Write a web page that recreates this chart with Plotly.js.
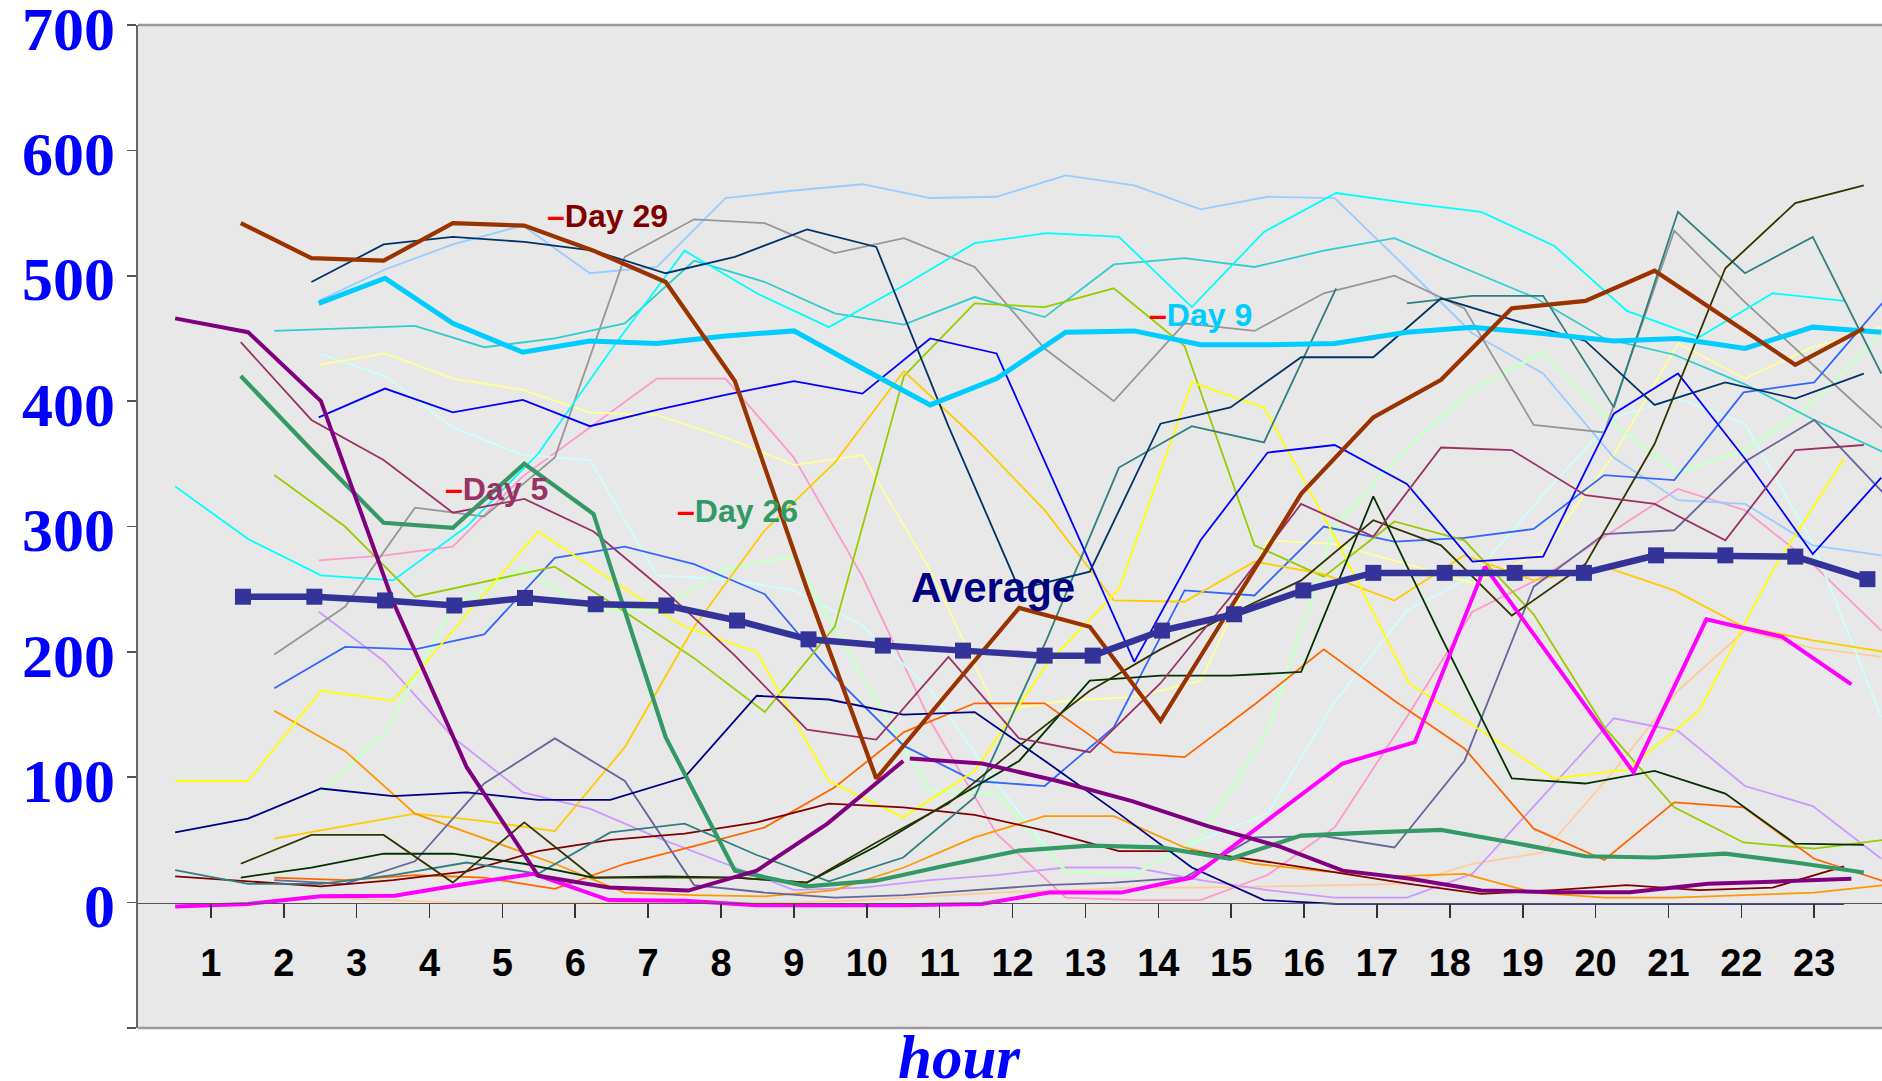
<!DOCTYPE html>
<html><head><meta charset="utf-8">
<script src="https://cdn.plot.ly/plotly-3.0.1.min.js"></script>
<style>html,body{margin:0;padding:0;background:#fff;}#chart{width:1882px;height:1081px;}</style>
</head><body><div id="chart"></div>
<script>
// ---- axis labels ----
const hourTicks = [1,2,3,4,5,6,7,8,9,10,11,12,13,14,15,16,17,18,19,20,21,22,23];
const hourLabels = ['1','2','3','4','5','6','7','8','9','10','11','12','13','14','15','16','17','18','19','20','21','22','23'];
const yTickVals = [-100,0,100,200,300,400,500,600,700];
const yTickText = ['','0','100','200','300','400','500','600','700'];
const xTitle = 'hour';

// ---- x positions (hour units) of the points of the overlaid day charts ----
const gridP = [0.51,1.51,2.51,3.50,4.51,5.49,6.48,7.50,8.49,9.48,10.50,11.48,12.47,13.46,14.46,15.45,16.44,17.44,18.43,19.43,20.43,21.42,22.43,23.41];
const gridQ = [1.41,2.38,3.37,4.32,5.30,6.25,7.24,8.19,9.18,10.13,11.12,12.09,13.06,14.03,14.99,15.96,16.95,17.88,18.85,19.86,20.81,21.78,22.74,23.68];
const gridR = [2.48,3.39,4.32,5.28,6.20,7.12,8.06,9.00,9.94,10.87,11.78,12.73,13.67,14.58,15.50,16.42,17.41,18.31,19.28,20.25,21.13,22.05,22.98,23.92];
const gridS = [1.87,2.84,3.80,4.75,5.72,6.68,7.63,8.60,9.56,10.51,11.48,12.44,13.39,14.36,15.32,16.27,17.24,18.20,19.15,20.12,21.08,22.03,23.00,23.96];
const avgX  = [1.44,2.42,3.39,4.34,5.31,6.28,7.25,8.22,9.20,10.22,11.32,12.44,13.10,14.05,15.04,15.99,16.95,17.93,18.89,19.84,20.83,21.78,22.74,23.73];
const day5X = [0.51,1.51,2.51,3.50,4.51,5.49,6.46,7.55,8.49,9.46,10.50,null,10.59,11.58,12.62,13.64,14.68,15.65,16.53,17.46,18.43,19.50,20.47,21.54,22.56,23.51];
const day2X = [0.51,1.51,2.51,3.52,4.51,5.43,6.46,7.50,8.49,9.48,10.50,11.58,12.50,13.49,14.46,15.48,16.53,17.52,18.48,19.50,20.52,21.52,22.56,23.51];

// ---- thin day series ----
const dayNavy     = [56,67,91,85,88,82,82,100,165,162,150,152,112,71,28,2,-1,-1,-1,-1,-1,-1,-1,-1];
const dayYellow   = [97,97,169,161,230,296,258,220,200,97,68,105,190,250,415,395,290,175,137,99,106,153,265,354];
const dayCyan     = [332,290,261,257,300,358,440,520,486,459,492,526,534,531,475,535,566,558,551,524,472,451,486,480];
const dayMaroon   = [21,17,13,18,25,41,50,55,64,79,76,70,57,41,41,33,24,15,7,10,14,10,12,29];
const dayTeal     = [26,15,15,22,32,23,56,63,38,17,36,84,210,347,380,367,490,null,null,null,null,null,null,null];
const dayBlue     = [387,410,391,401,380,393,405,416,406,450,438,314,192,289,359,365,334,272,276,390,422,354,278,339];
const dayTurq     = [438,420,379,357,353,261,258,249,221,170,95,25,23,50,71,160,233,260,325,387,402,382,287,148];
const dayLtGreen  = [87,135,236,267,233,233,266,276,180,89,87,25,22,52,137,300,363,409,439,382,343,361,398,454];
const dayLtYellow = [429,438,418,409,391,389,371,349,357,265,153,161,164,177,289,286,270,255,280,357,446,418,443,459];
const dayRose     = [273,277,284,340,379,418,418,355,260,145,55,4,2,2,22,60,148,232,260,297,330,313,270,217];
const dayLavender = [232,192,132,88,75,52,31,10,12,18,22,28,28,18,10,4,4,23,85,147,137,93,77,35];
const dayTan      = [4,2,0,0,0,0,0,0,2,5,8,10,12,12,13,14,15,31,40,105,169,217,203,196];
const dayPaleBlue = [480,505,525,540,502,507,562,568,573,562,563,580,572,553,563,562,506,454,422,355,321,318,285,277];
const dayLtBlue   = [171,204,202,214,275,284,270,246,180,125,97,93,140,249,245,300,288,291,298,341,337,407,415,480];
const dayAqua     = [456,458,460,443,450,462,512,495,470,461,483,467,509,514,507,520,530,506,483,450,437,414,385,359];
const dayLime     = [341,300,244,256,268,232,195,152,220,420,478,475,490,444,285,260,304,289,230,140,76,48,43,50];
const dayGold     = [51,61,71,65,57,124,220,297,351,424,371,313,241,240,272,262,241,277,257,268,249,220,209,200];
const dayLtOrange = [153,121,71,51,31,8,6,5,10,28,52,69,69,44,31,25,21,23,8,4,4,6,8,14];
const dayOrange   = [20,18,22,20,11,31,45,60,92,136,159,159,120,116,158,202,161,123,59,34,80,76,35,17];
const dayBlueGray = [18,15,33,95,131,97,14,8,4,6,10,14,16,20,52,53,44,113,252,294,297,351,385,326];
const dayGray     = [198,236,315,308,355,515,545,542,518,530,507,442,400,462,456,486,500,474,381,375,536,480,428,377];
const dayDkTeal   = [null,495,525,531,527,520,502,515,537,523,380,250,264,382,395,435,435,482,465,448,397,415,402,422];
const dayDkGreen  = [20,28,39,39,31,20,21,20,16,45,80,113,177,181,181,184,324,212,99,95,105,87,47,46];
const dayOlive    = [31,54,54,16,64,20,20,20,16,48,79,125,169,202,230,257,305,285,229,270,366,506,558,572];
const dayPlum     = [447,385,353,311,322,296,248,197,138,130,196,131,120,175,244,318,292,363,361,325,318,289,361,365];
const dayTeal2    = [null,null,null,null,null,null,null,null,null,null,null,null,null,null,null,null,478,484,484,395,551,502,531,422];

// ---- highlighted series ----
const day2  = [-3,-1,5,5.5,15,23,2,1.5,-2,-2,-2,-1,8,8,20,65,111,128,268,186,104,226,212,174];
const day5  = [466,455,400,240,108,21.5,12,9.6,25.5,63,113,null,115,111,97,81,61,45,25.5,19,9.6,8.2,8.2,15,17,19];
const day9  = [478,498,462,439,448,446,452,456,426,397,418,455,456,445,445,446,455,459,454,448,450,442,459,455];
const day26 = [420,361,303,299,350,310,132,25.5,13,17.5,30,41.5,45.5,44,35,53.5,56,58,48,37,36,39,32,24];
const day29 = [542,514,512,542,540,520,495,416,250,99,168,235,220,145,235,326,387,417,474,480,504,466,429,458];
const average = [244,244,241,237,243,238,237,225,210,205,201,197,197,217,230,249,263,263,263,263,277,277,276,258];

const traces = [];
function line(name, xs, ys, color, width) {
  traces.push({type:'scatter', mode:'lines', name:name, x:xs, y:ys,
    line:{color:color, width:width}, connectgaps:false, hoverinfo:'skip'});
}
line('Day A', gridR, dayTan, '#FFCC99', 1.8);
line('Day B', gridR, dayLavender, '#CC99FF', 1.8);
line('Day C', gridR, dayRose, '#FF99CC', 1.8);
line('Day D', gridR, dayTurq, '#CCFFFF', 1.8);
line('Day E', gridR, dayLtYellow, '#FFFF99', 1.8);
line('Day F', gridR, dayPaleBlue, '#99CCFF', 1.8);
line('Day G', gridR, dayLtGreen, '#CCFFCC', 3.2);
line('Day H', gridS, dayGray, '#969696', 1.8);
line('Day I', gridS, dayAqua, '#33CCCC', 1.8);
line('Day J', gridS, dayLtBlue, '#3366FF', 1.8);
line('Day K', gridS, dayLime, '#99CC00', 1.8);
line('Day L', gridS, dayGold, '#FFCC00', 1.8);
line('Day M', gridS, dayLtOrange, '#FF9900', 1.8);
line('Day N', gridS, dayOrange, '#FF6600', 1.8);
line('Day O', gridS, dayBlueGray, '#666699', 1.8);
line('Day P', gridP, dayYellow, '#FFFF00', 1.8);
line('Day Q', gridP, dayCyan, '#00FFFF', 1.8);
line('Day R', gridP, dayMaroon, '#800000', 1.8);
line('Day S', gridP, dayTeal, '#2F7F7F', 1.8);
line('Day T', gridR, dayTeal2, '#2F7F7F', 1.8);
line('Day U', gridR, dayBlue, '#0000FF', 1.8);
line('Day V', gridP, dayNavy, '#000080', 1.8);
line('Day W', gridQ, dayDkTeal, '#003366', 1.8);
line('Day X', gridQ, dayDkGreen, '#003300', 1.8);
line('Day Y', gridQ, dayOlive, '#333300', 1.8);
line('Day Z', gridQ, dayPlum, '#993366', 1.8);
line('Day 2', day2X, day2, '#FF00FF', 4);
line('Day 26', gridQ, day26, '#339966', 4.2);
line('Day 5', day5X, day5, '#800080', 4);
line('Day 9', gridR, day9, '#00CCFF', 5);
line('Day 29', gridQ, day29, '#993300', 4.2);
traces.push({type:'scatter', mode:'lines+markers', name:'Average', x:avgX, y:average,
  line:{color:'#333399', width:6.5}, marker:{symbol:'square', size:16, color:'#333399'}, hoverinfo:'skip'});

const dash = '<span style="color:#ff0000">–</span>';
const layout = {
  width:1882, height:1081,
  margin:{l:138, r:0, t:25, b:53},
  paper_bgcolor:'#ffffff', plot_bgcolor:'#e8e8e8',
  showlegend:false,
  xaxis:{range:[0,23.93], anchor:'free', position:0.125,
    tickmode:'array', tickvals:hourTicks, ticktext:hourLabels,
    ticks:'outside', ticklen:14, tickwidth:1.6, tickcolor:'#333',
    showline:true, linecolor:'#555', linewidth:1.6, showgrid:false, zeroline:false,
    tickfont:{family:'Liberation Sans, Arial, sans-serif', size:38, color:'#000000', weight:'bold'},
    ticklabelstandoff:12},
  yaxis:{range:[-100,700], tickmode:'array', tickvals:yTickVals, ticktext:yTickText,
    ticks:'outside', ticklen:9, tickwidth:1.6, tickcolor:'#555',
    showline:true, linecolor:'#666', linewidth:1.6, showgrid:false, zeroline:false,
    tickfont:{family:'Liberation Serif, Times New Roman, serif', size:62, color:'#0000ff', weight:'bold'},
    ticklabeloverflow:'allow', ticklabelshift:3, ticklabelstandoff:0},
  shapes:[
    {type:'line', xref:'paper', yref:'paper', x0:0, x1:1, y0:1, y1:1, line:{color:'#999999', width:2.5}},
    {type:'line', xref:'paper', yref:'paper', x0:0, x1:1, y0:0, y1:0, line:{color:'#999999', width:2.5}}
  ],
  annotations:[
    {x:0.4713, y:0.006, xref:'paper', yref:'paper', xanchor:'center', yanchor:'top', showarrow:false,
      text:xTitle, font:{family:'Liberation Serif, Times New Roman, serif', size:61, color:'#0000ff', weight:'bold', style:'italic'}},
    {x:5.58, y:548, xref:'x', yref:'y', xanchor:'left', yanchor:'middle', showarrow:false,
      text:dash+'Day 29', font:{family:'Liberation Sans, Arial, sans-serif', size:32, color:'#800000', weight:'bold'}},
    {x:4.18, y:330, xref:'x', yref:'y', xanchor:'left', yanchor:'middle', showarrow:false,
      text:dash+'Day 5', font:{family:'Liberation Sans, Arial, sans-serif', size:32, color:'#993366', weight:'bold'}},
    {x:7.37, y:312, xref:'x', yref:'y', xanchor:'left', yanchor:'middle', showarrow:false,
      text:dash+'Day 26', font:{family:'Liberation Sans, Arial, sans-serif', size:32, color:'#339966', weight:'bold'}},
    {x:13.84, y:469, xref:'x', yref:'y', xanchor:'left', yanchor:'middle', showarrow:false,
      text:dash+'Day 9', font:{family:'Liberation Sans, Arial, sans-serif', size:32, color:'#00CCFF', weight:'bold'}},
    {x:11.73, y:251, xref:'x', yref:'y', xanchor:'center', yanchor:'middle', showarrow:false,
      text:'Average', font:{family:'Liberation Sans, Arial, sans-serif', size:42, color:'#000080', weight:'bold'}}
  ]
};
Plotly.newPlot('chart', traces, layout, {displayModeBar:false, staticPlot:true});
</script></body></html>
